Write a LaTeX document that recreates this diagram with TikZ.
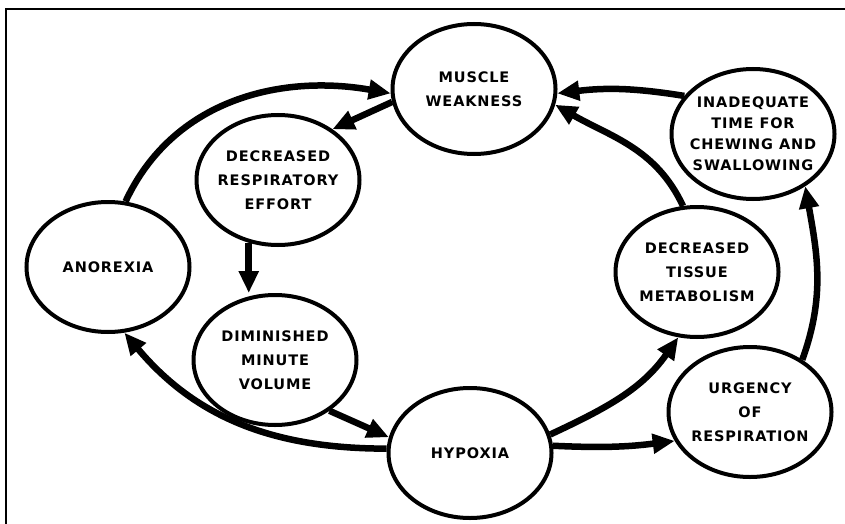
\documentclass[tikz,border=0pt]{standalone}
\usepackage{fontspec}
\newfontfamily\bubblefont{DejaVu Sans}[LetterSpace=6]
\usetikzlibrary{arrows.meta,shapes.geometric}

\begin{document}
\begin{tikzpicture}[x=1pt, y=1pt, >={Triangle[length=22pt, width=19pt]}, bubble/.style={draw, ellipse, line width=4pt, minimum width=163pt, minimum height=130pt, inner xsep=-10pt, inner ysep=0pt, align=center, font=\bubblefont\bfseries\fontsize{14.5}{24}\selectfont}, link/.style={->, line width=6.5pt}, frame/.style={line width=1.5pt}]
\useasboundingbox (0,0) rectangle (845,-524);
\draw[frame] (845,-9) -- (6,-9) -- (6,-524);
\node[bubble] (weak) at (474,-89) {MUSCLE\\WEAKNESS};
\node[bubble] (effort) at (278,-180) {DECREASED\\RESPIRATORY\\EFFORT};
\node[bubble] (anorexia) at (108,-267) {ANOREXIA};
\node[bubble] (volume) at (275,-360) {DIMINISHED\\MINUTE\\VOLUME};
\node[bubble] (hypoxia) at (470,-453) {HYPOXIA};
\node[bubble] (tissue) at (697,-272) {DECREASED\\TISSUE\\METABOLISM};
\node[bubble] (urgency) at (750,-412) {URGENCY\\OF\\RESPIRATION};
\node[bubble, font=\bubblefont\bfseries\fontsize{14.5}{21}\selectfont] (chewing) at (753,-134) {INADEQUATE\\TIME FOR\\CHEWING AND\\SWALLOWING};
\draw[link] (anorexia.75) to[out=65, in=170] (weak.183);
\draw[link] (weak.189) -- (effort.43);
\draw[link] (effort.245) -- (effort.245 |- volume.north);
\draw[link] (volume.317) -- (hypoxia.169);
\draw[link] (hypoxia.177) to[out=180, in=-50] (anorexia.284);
\draw[link] (hypoxia.13) to[out=25, in=235] (tissue.254);
\draw[link] (hypoxia.5) to[bend right=5] (urgency.201);
\draw[link] (urgency.45) to[out=70, in=-80] (chewing.315);
\draw[link] (tissue.102) to[out=115, in=-30] (weak.349);
\draw[link] (chewing.151) to[bend right=8] (weak.357);
\end{tikzpicture}
\end{document}
